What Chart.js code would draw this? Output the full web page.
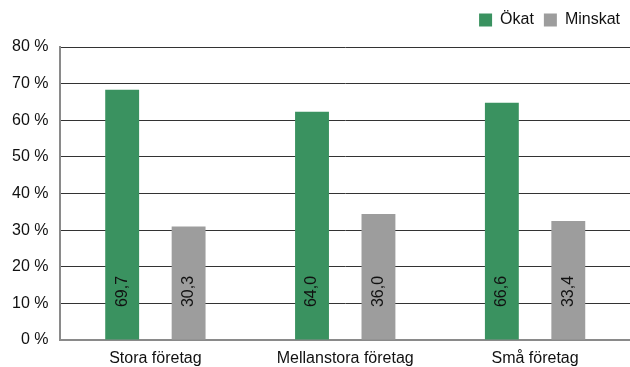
<!DOCTYPE html>
<html>
<head>
<meta charset="utf-8">
<script src="https://cdn.jsdelivr.net/npm/chart.js@4"></script>
<style>
  body { margin: 0; background: #fff; overflow: hidden; }
  #wrap { width: 630px; height: 367px; }
</style>
</head>
<body>
<div id="wrap"><canvas id="chart" width="630" height="367"></canvas></div>
<script>
// categories
var categories = ["Stora företag", "Mellanstora företag", "Små företag"];

// bar heights as drawn in the picture (%)
var okat = [68.3, 62.3, 64.8];
var minskat = [31.0, 34.4, 32.5];

// printed labels inside the bars
var okatLabels = ["69,7", "64,0", "66,6"];
var minskatLabels = ["30,3", "36,0", "33,4"];

// y axis ticks
var yTicks = [0, 10, 20, 30, 40, 50, 60, 70, 80];

var green = '#3a9260';
var grey = '#9d9d9d';

Chart.defaults.font.family = "'Liberation Sans', Arial, sans-serif";
Chart.defaults.font.size = 16;
Chart.defaults.color = '#111';

// writes the value labels rotated inside each bar
var barLabels = {
    id: 'barLabels',
    afterDatasetsDraw: function(chart) {
        var ctx = chart.ctx;
        var texts = [okatLabels, minskatLabels];
        ctx.save();
        ctx.font = "16px 'Liberation Sans', Arial, sans-serif";
        ctx.fillStyle = '#111';
        ctx.textAlign = 'center';
        ctx.textBaseline = 'middle';
        chart.data.datasets.forEach(function(ds, i) {
            chart.getDatasetMeta(i).data.forEach(function(bar, j) {
                ctx.save();
                ctx.translate(bar.x, bar.base - 48);
                ctx.rotate(-Math.PI / 2);
                ctx.fillText(texts[i][j], 0, 0);
                ctx.restore();
            });
        });
        ctx.restore();
    }
};

// more room under the legend
var legendGap = {
    id: 'legendGap',
    beforeInit: function(chart) {
        var fit = chart.legend.fit;
        chart.legend.fit = function() {
            fit.bind(chart.legend)();
            this.height += 9;
        };
    }
};

var chart = new Chart(document.getElementById('chart').getContext('2d'), {
    type: 'bar',
    data: {
        labels: categories,
        datasets: [{
            label: "Ökat",
            backgroundColor: green,
            data: okat
        }, {
            label: "Minskat",
            backgroundColor: grey,
            data: minskat
        }]
    },
    options: {
        responsive: false,
        animation: false,
        layout: { padding: { left: 0, right: 0, top: 2, bottom: 0 } },
        datasets: {
            bar: { categoryPercentage: 0.70, barPercentage: 0.51 }
        },
        plugins: {
            tooltip: { enabled: false },
            legend: {
                position: 'top',
                align: 'end',
                labels: {
                    boxWidth: 13,
                    boxHeight: 13,
                    padding: 10,
                    font: { size: 16 },
                    color: '#111'
                }
            }
        },
        scales: {
            x: {
                grid: { display: false, drawTicks: false },
                border: { color: '#8a8a8a', width: 2 },
                ticks: { padding: 9, color: '#111', maxRotation: 0 },
                afterFit: function(axis) { axis.height = 27; }
            },
            y: {
                min: 0,
                max: 80,
                afterBuildTicks: function(axis) {
                    axis.ticks = yTicks.map(function(v) { return { value: v }; });
                },
                grid: { color: '#333', lineWidth: 1, drawTicks: false },
                border: { color: '#8a8a8a', width: 2 },
                ticks: {
                    padding: 12,
                    color: '#111',
                    callback: function(v) { return v + ' %'; }
                }
            }
        }
    },
    plugins: [barLabels, legendGap]
});
</script>
</body>
</html>
